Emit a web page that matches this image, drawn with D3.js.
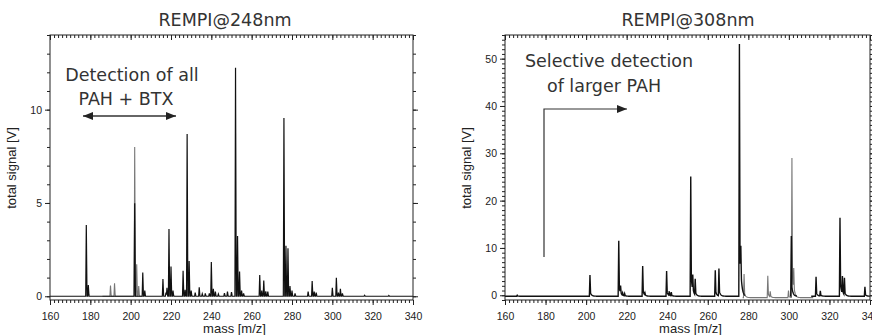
<!DOCTYPE html>
<html>
<head>
<meta charset="utf-8">
<script src="https://cdn.jsdelivr.net/npm/d3@7"></script>
<style>
  body { margin: 0; background: #fff; }
  svg { display: block; }
  .tick text { font-family: "Liberation Sans", Arial, sans-serif; font-size: 10.5px; fill: #222; }
  .tick line { stroke: #222; }
  .title, .annot { font-family: "DejaVu Sans", sans-serif; fill: #333; }
  .axlabel { font-family: "Liberation Sans", Arial, sans-serif; font-size: 13px; fill: #222; }
</style>
</head>
<body>
<div id="chart"></div>
<script>
// mass axis ticks
const xTicks = [160, 180, 200, 220, 240, 260, 280, 300, 320, 340];
const leftTicks = [0, 5, 10];
const rightTicks = [0, 10, 20, 30, 40, 50];

// REMPI@248nm peaks [mass, signal V]
const peaks248Black = [
  [178, 3.82], [179, 0.6], [202, 4.98], [206, 1.27], [207, 0.3],
  [216, 0.93], [217.5, 0.2], [218, 0.45], [219, 3.6], [220, 1.59], [221, 0.3],
  [226, 1.37], [227, 0.34], [228, 8.7], [229, 1.89], [230, 0.3], [232, 0.2],
  [234, 0.48], [235.5, 0.13], [237, 0.15], [239, 0.15], [240, 1.84], [241, 0.4],
  [242, 0.25], [243.5, 0.12], [246.5, 0.17], [248, 0.25], [250, 0.23],
  [252, 12.24], [253, 3.23], [254, 1.32], [255, 0.3], [256, 0.15],
  [264, 1.14], [265, 0.3], [266, 0.84], [267, 0.27], [268, 0.25],
  [276, 9.55], [277, 2.7], [278, 2.57], [279, 0.55], [280, 0.3], [281.5, 0.15],
  [288, 0.25], [290, 0.82], [291, 0.25], [292, 0.2],
  [300, 0.45], [302, 0.99], [303, 0.2], [304, 0.4], [305, 0.15],
  [316, 0.05], [328, 0.04]
];
const peaks248Gray = [
  [190, 0.58], [192, 0.7], [202, 8.0], [203, 1.71], [204, 0.55]
];

// REMPI@308nm peaks [mass, signal V]
const peaks308Black = [
  [166, 0.2], [201.9, 4.5], [216.1, 11.7], [217, 1.6], [218, 0.5], [219, 0.5],
  [227.9, 6.4], [229, 0.5], [239.7, 5.35], [241, 0.9], [242, 0.8],
  [251.6, 25.3], [252.6, 3.4], [253.8, 3.4], [263.7, 5.5], [265.5, 5.8],
  [275.6, 53.3], [276.3, 6.5], [301.2, 12.7],
  [313.4, 4.1], [315.5, 1.1], [325.2, 16.6], [326.4, 3.7], [327.4, 3.6], [337.5, 2.0]
];
const peaks308Gray = [
  [277.9, 5.0], [289.6, 4.6], [290.8, 1.2], [299.8, 1.5], [301.5, 29.5], [302.4, 4.6]
];

const W = 872, H = 335;
const svg = d3.select('#chart').append('svg').attr('width', W).attr('height', H);

// build a sampled trace from a peak list
function trace(peaks, lo, hi, base, tail) {
  const pts = [];
  for (let i = Math.round(lo * 10); i <= Math.round(hi * 10); i++) {
    const m = i / 10;
    let v = base;
    peaks.forEach(p => {
      const dx = m - p[0];
      if (dx < -0.3 || dx > 4) return;
      if (dx <= 0) v += p[1] * (1 + dx / 0.3);
      else if (tail) v += p[1] * (0.75 * Math.max(0, 1 - dx / 0.3) + 0.25 * Math.exp(-dx / 0.6));
      else v += p[1] * Math.max(0, 1 - dx / 0.35);
    });
    pts.push([m, v]);
  }
  return pts;
}

function panel(cfg) {
  const x = d3.scaleLinear().domain([160, 340]).range([cfg.x0, cfg.x1]);
  const y = d3.scaleLinear().domain(cfg.yDomain).range([300, 35]);
  const g = svg.append('g');

  // clip
  const cid = 'clip' + cfg.id;
  svg.append('clipPath').attr('id', cid).append('rect')
    .attr('x', cfg.x0).attr('y', 35).attr('width', cfg.x1 - cfg.x0).attr('height', 265);

  const line = d3.line()
    .defined(d => d.ok !== false)
    .x(d => x(d[0])).y(d => y(d[1]));

  g.append('path').datum(cfg.gray)
    .attr('d', line).attr('fill', 'none').attr('stroke', '#777').attr('stroke-width', 1.1)
    .attr('clip-path', 'url(#' + cid + ')');
  g.append('path').datum(cfg.black)
    .attr('d', line).attr('fill', 'none').attr('stroke', '#111').attr('stroke-width', cfg.lw)
    .attr('clip-path', 'url(#' + cid + ')');

  // axes
  const minorX = d3.range(160, 341, 2);
  const minorY = d3.range(Math.ceil(cfg.yDomain[0]), cfg.yDomain[1] + 0.01, 1);

  g.append('g').attr('transform', 'translate(0,300)')
    .call(d3.axisBottom(x).tickValues(minorX).tickSize(3).tickFormat(''));
  g.append('g').attr('transform', 'translate(0,300)')
    .call(d3.axisBottom(x).tickValues(xTicks).tickSize(5).tickPadding(8));
  g.append('g').attr('transform', 'translate(0,35)')
    .call(d3.axisTop(x).tickValues(minorX).tickSize(-3).tickFormat(''));
  g.append('g').attr('transform', 'translate(0,35)')
    .call(d3.axisTop(x).tickValues(xTicks).tickSize(-5).tickFormat(''));

  g.append('g').attr('transform', 'translate(' + cfg.x0 + ',0)')
    .call(d3.axisLeft(y).tickValues(minorY).tickSize(3).tickFormat(''));
  g.append('g').attr('transform', 'translate(' + cfg.x0 + ',0)')
    .call(d3.axisLeft(y).tickValues(cfg.yTicks).tickSize(5).tickPadding(3));
  g.append('g').attr('transform', 'translate(' + cfg.x1 + ',0)')
    .call(d3.axisRight(y).tickValues(minorY).tickSize(3).tickFormat(''));
  g.append('g').attr('transform', 'translate(' + cfg.x1 + ',0)')
    .call(d3.axisRight(y).tickValues(cfg.yTicks).tickSize(5).tickFormat(''));
  g.selectAll('.domain').remove();

  g.append('rect').attr('x', cfg.x0).attr('y', 35)
    .attr('width', cfg.x1 - cfg.x0).attr('height', 265)
    .attr('fill', 'none').attr('stroke', '#222').attr('stroke-width', 1);

  g.append('text').attr('class', 'title').attr('x', cfg.titleX).attr('y', 26)
    .attr('text-anchor', 'middle').attr('font-size', 17.5).text(cfg.title);
  g.append('text').attr('class', 'axlabel')
    .attr('x', (cfg.x0 + cfg.x1) / 2 + 3).attr('y', 333)
    .attr('text-anchor', 'middle').text('mass [m/z]');
  g.append('text').attr('class', 'axlabel')
    .attr('transform', 'translate(' + (cfg.x0 - 34) + ',168) rotate(-90)')
    .attr('text-anchor', 'middle').text('total signal [V]');
  return g;
}

// arrowhead marker
const defs = svg.append('defs');
defs.append('marker').attr('id', 'head').attr('viewBox', '0 0 10 8')
  .attr('refX', 10).attr('refY', 4).attr('markerWidth', 10).attr('markerHeight', 8)
  .attr('markerUnits', 'userSpaceOnUse').attr('orient', 'auto-start-reverse')
  .append('path').attr('d', 'M0,0L10,4L0,8Z').attr('fill', '#222');

// left panel
const black248 = trace(peaks248Black, 160, 340, 0, false);
const gray248 = trace(peaks248Gray, 186, 206, 0, false);
const g1 = panel({
  id: 1, x0: 50, x1: 413, yDomain: [-0.2, 14], yTicks: leftTicks, lw: 1.2,
  black: black248, gray: gray248, title: 'REMPI@248nm', titleX: 225
});
g1.append('text').attr('class', 'annot').attr('x', 132).attr('y', 81)
  .attr('text-anchor', 'middle').attr('font-size', 17.5).text('Detection of all');
g1.append('text').attr('class', 'annot').attr('x', 126).attr('y', 105)
  .attr('text-anchor', 'middle').attr('font-size', 17.5).text('PAH + BTX');
g1.append('path').attr('d', 'M83,116H176').attr('stroke', '#333').attr('stroke-width', 1.5)
  .attr('fill', 'none').attr('marker-start', 'url(#head)').attr('marker-end', 'url(#head)');

// right panel
const black308 = trace(peaks308Black, 160, 340, -0.2, true);
black308.forEach(d => { if ((d[0] > 278.5 && d[0] < 300.8) || (d[0] > 304 && d[0] < 311)) d.ok = false; });
const gray308 = trace(peaks308Gray, 277.2, 312, -0.5, true);
const g2 = panel({
  id: 2, x0: 505, x1: 870, yDomain: [-1, 55], yTicks: rightTicks, lw: 1.4,
  black: black308, gray: gray308, title: 'REMPI@308nm', titleX: 688
});
g2.append('text').attr('class', 'annot').attr('x', 609).attr('y', 67)
  .attr('text-anchor', 'middle').attr('font-size', 17.5).text('Selective detection');
g2.append('text').attr('class', 'annot').attr('x', 604).attr('y', 92)
  .attr('text-anchor', 'middle').attr('font-size', 17.5).text('of larger PAH');
g2.append('path').attr('d', 'M544,257V109H627').attr('stroke', '#333').attr('stroke-width', 1.2)
  .attr('fill', 'none').attr('marker-end', 'url(#head)');
</script>
</body>
</html>
